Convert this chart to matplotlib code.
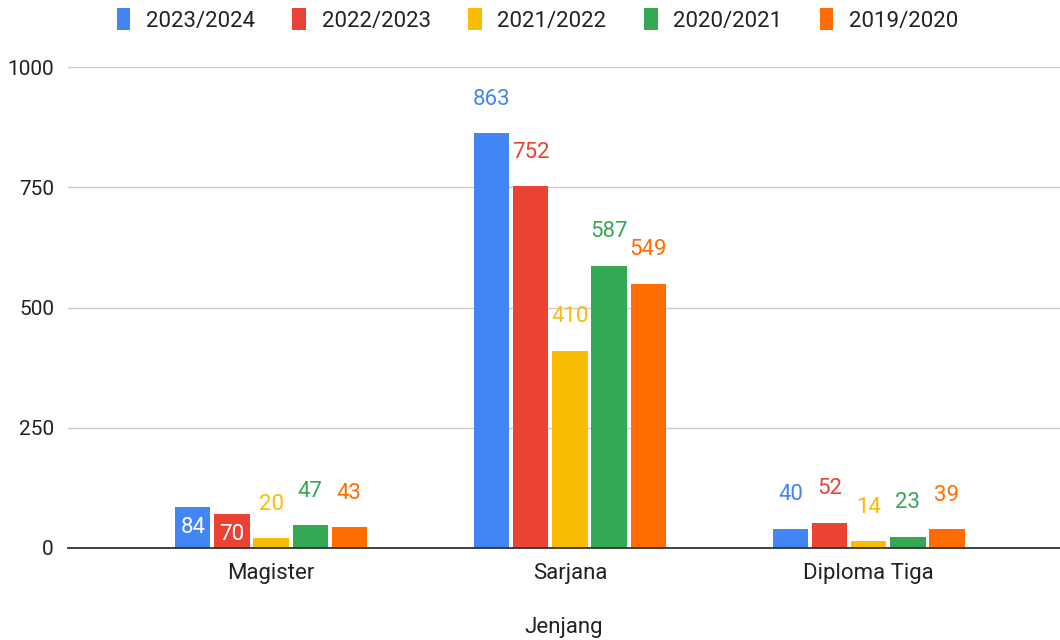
import numpy as np
import matplotlib.pyplot as plt
from matplotlib.transforms import offset_copy

plt.rcParams['font.family'] = ['Roboto', 'DejaVu Sans']

categories = ["Magister", "Sarjana", "Diploma Tiga"]
series = ["2023/2024", "2022/2023", "2021/2022", "2020/2021", "2019/2020"]
values = [
    [84, 863, 40],
    [70, 752, 52],
    [20, 410, 14],
    [47, 587, 23],
    [43, 549, 39],
]
colors = ["#4285F4", "#EA4335", "#FBBC04", "#34A853", "#FF6D01"]

# labels that google sheets put inside the bar (series index, category index)
inside = {(0, 0), (1, 0)}

fig = plt.figure(figsize=(10.6, 6.4), dpi=100)
ax = fig.add_axes([0.064, 0.144, 0.936, 0.751])

x = np.arange(len(categories))
slot = 0.131
width = 0.118
for i, (name, vals) in enumerate(zip(series, values)):
    pos = x + (i - 2) * slot
    ax.bar(pos, vals, width, color=colors[i], label=name, zorder=3)
    for j, (p, v) in enumerate(zip(pos, vals)):
        if (i, j) in inside:
            tr = offset_copy(ax.transData, fig=fig, y=-20, units='dots')
            ax.text(p, v, str(v), transform=tr, ha='center', va='center',
                    color='white', fontsize=16, zorder=4)
        else:
            tr = offset_copy(ax.transData, fig=fig, y=34, units='dots')
            ax.text(p, v, str(v), transform=tr, ha='center', va='center',
                    color=colors[i], fontsize=16, zorder=4, clip_on=False)

ax.set_xlim(-0.68, 2.64)
ax.set_ylim(0, 1000)
ax.set_yticks([0, 250, 500, 750, 1000])
ax.set_xticks(x)
ax.set_xticklabels(categories)
ax.tick_params(axis='both', length=0, colors='#222222')
ax.tick_params(axis='y', pad=10, labelsize=15)
ax.tick_params(axis='x', pad=11, labelsize=16)
ax.grid(axis='y', color='#cccccc', linewidth=1, zorder=0)
for s in ['top', 'right', 'left']:
    ax.spines[s].set_visible(False)
ax.spines['bottom'].set_color('#333333')
ax.spines['bottom'].set_linewidth(1.3)
ax.spines['bottom'].set_zorder(5)
ax.set_xlabel("Jenjang", fontsize=16, color='#222222', labelpad=24)

fig.legend(loc='upper center', bbox_to_anchor=(0.507, 1.018), ncol=5, frameon=False,
           fontsize=16, handlelength=0.62, handleheight=1.1, columnspacing=1.68,
           handletextpad=0.7, labelcolor='#222222')

plt.savefig("out.png", dpi=100)
